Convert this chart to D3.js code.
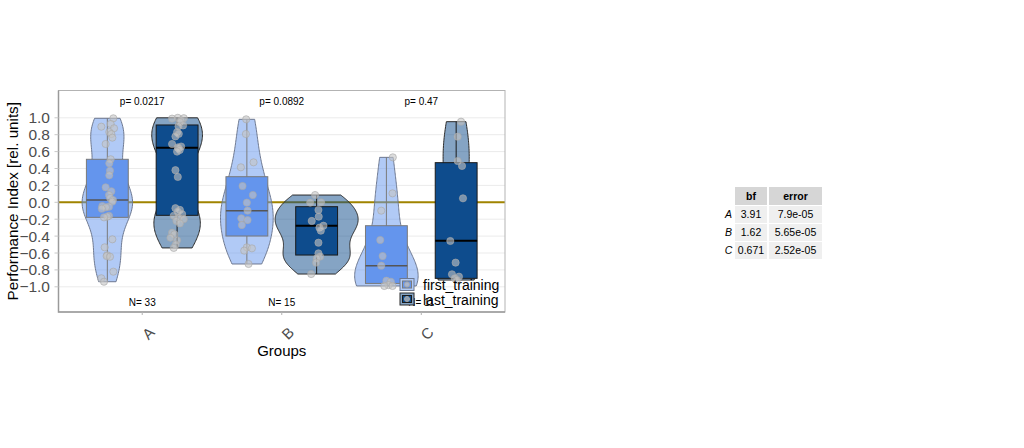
<!DOCTYPE html>
<html>
<head>
<meta charset="utf-8">
<script src="https://cdn.jsdelivr.net/npm/d3@7"></script>
<style>
  body { margin: 0; background: #fff; }
  text { font-family: "Liberation Sans", Arial, sans-serif; }
</style>
</head>
<body>
<svg width="1024" height="448"></svg>
<script>
const groups = ['A', 'B', 'C']
const series = ['first_training', 'last_training']
const yTicks = [-1.0, -0.8, -0.6, -0.4, -0.2, 0.0, 0.2, 0.4, 0.6, 0.8, 1.0]
const pLabels = ['p= 0.0217', 'p= 0.0892', 'p= 0.47']
const nLabels = ['N= 33', 'N= 15', 'N= 11']

// box stats [q1, median, q3]
const boxFirst = [[-0.178, 0.027, 0.509], [-0.399, -0.099, 0.303], [-0.96, -0.75, -0.277]]
const boxLast = [[-0.154, 0.646, 0.915], [-0.624, -0.277, -0.052], [-0.90, -0.454, 0.469]]

// points: [value, jitter (category units)]
const ptsAFirst = [[0.994,0.043],[0.927,0.024],[0.895,-0.043],[0.876,0.048],[0.832,0.014],[0.808,0.029],
  [0.765,0.036],[0.69,-0.012],[0.509,0.024],[0.461,0.014],[0.374,0.019],[0.319,0.014],[0.177,-0.012],
  [0.13,0.029],[0.086,0.012],[0.05,0.02],[0.027,0.04],[0.007,0.036],[-0.044,-0.036],[-0.052,0.012],
  [-0.06,-0.01],[-0.076,-0.04],[-0.16,0.012],[-0.17,0],[-0.178,-0.024],[-0.438,0.036],[-0.533,-0.019],
  [-0.627,0],[-0.636,-0.005],[-0.644,0.019],[-0.821,0.043],[-0.899,-0.043],[-0.94,-0.024]]
const ptsALast = [[1.0,0.005],[0.995,0.048],[0.99,-0.036],[0.97,0.029],[0.95,0.02],[0.91,0.043],
  [0.9,0.01],[0.83,0],[0.81,0.012],[0.78,-0.012],[0.69,-0.036],[0.66,0.029],[0.65,0.005],[0.64,0.01],
  [0.62,0.019],[0.6,0.0],[0.38,-0.012],[0.30,0.005],[-0.07,-0.012],[-0.09,0.02],[-0.11,0.005],
  [-0.14,0.036],[-0.16,-0.024],[-0.18,0.01],[-0.20,0.048],[-0.22,-0.005],[-0.25,0.02],[-0.36,-0.036],
  [-0.38,-0.019],[-0.42,-0.048],[-0.45,0.0],[-0.50,-0.01],[-0.54,-0.024]]
const ptsBFirst = [[0.982,-0.005],[0.808,-0.007],[0.473,0.048],[0.414,-0.043],[0.193,-0.031],[0.086,0.043],
  [-0.004,0],[-0.099,0.005],[-0.19,-0.04],[-0.21,0.005],[-0.269,-0.036],[-0.533,0],[-0.545,0.036],
  [-0.572,-0.019],[-0.73,0.012]]
const ptsBLast = [[0.086,-0.011],[0.0,0.032],[-0.004,-0.046],[-0.091,0.013],[-0.17,0.015],[-0.221,-0.035],
  [-0.277,0.049],[-0.30,0.02],[-0.336,0.03],[-0.478,0.013],[-0.604,0.013],[-0.643,0.025],[-0.663,0.001],
  [-0.714,-0.004],[-0.849,-0.039]]
const ptsCFirst = [[0.532,0.046],[0.106,0.044],[-0.099,-0.037],[-0.446,-0.044],[-0.636,-0.027],
  [-0.75,-0.037],[-0.928,0],[-0.94,0.032],[-0.98,0.015],[-0.99,-0.015],[-0.99,0.044]]
const ptsCLast = [[0.954,0.035],[0.777,0.011],[0.489,0.011],[0.43,0.042],[0.047,0.049],[-0.458,-0.042],
  [-0.714,-0.004],[-0.852,-0.03],[-0.88,0.02],[-0.90,-0.01],[-0.92,0.005]]

const ptsFirst = [ptsAFirst, ptsBFirst, ptsCFirst]
const ptsLast = [ptsALast, ptsBLast, ptsCLast]

const tblRows = ['A', 'B', 'C']
const tblBf = ['3.91', '1.62', '0.671']
const tblError = ['7.9e-05', '5.65e-05', '2.52e-05']

const svg = d3.select('svg')
const panel = {left: 58.5, right: 505, top: 90.5, bottom: 312}

const x = d3.scalePoint().domain(groups).range([panel.left, panel.right]).padding(0.6)
const step = x.step()
const y = d3.scaleLinear().domain([-1, 1]).range([286.8, 117.8])

const styles = {
  first_training: {vFill: '#6495ED', vStroke: '#6d7890', bFill: '#6495ED', bStroke: '#7a7a7a', med: '#555', medW: 1.5},
  last_training: {vFill: '#0b4a8a', vStroke: '#2b2b2b', bFill: '#0e4c8d', bStroke: '#1a1a1a', med: '#000', medW: 2}
}

// grid
svg.append('g').selectAll('line').data(yTicks).join('line')
  .attr('x1', panel.left).attr('x2', panel.right)
  .attr('y1', d => y(d)).attr('y2', d => y(d))
  .attr('stroke', '#ebebeb').attr('stroke-width', 1)

// zero line
svg.append('line')
  .attr('x1', panel.left).attr('x2', panel.right)
  .attr('y1', y(0)).attr('y2', y(0))
  .attr('stroke', '#a08400').attr('stroke-width', 2)

// kde, R style nrd0 bandwidth
function nrd0(v) {
  const s = d3.deviation(v)
  const sorted = v.slice().sort(d3.ascending)
  const iqr = d3.quantile(sorted, 0.75) - d3.quantile(sorted, 0.25)
  let lo = Math.min(s, iqr / 1.34)
  if (!lo) lo = s || 1
  return 0.9 * lo * Math.pow(v.length, -0.2)
}
function density(v) {
  const bw = nrd0(v)
  const lo = d3.min(v), hi = d3.max(v)
  const n = 100
  const out = []
  for (let i = 0; i <= n; i++) {
    const t = lo + (hi - lo) * i / n
    const dd = d3.mean(v, xi => Math.exp(-0.5 * ((t - xi) / bw) ** 2)) / (bw * Math.sqrt(2 * Math.PI))
    out.push([t, dd])
  }
  return out
}

const layers = []
groups.forEach((g, gi) => {
  layers.push({g, s: 'first_training', off: -0.25, pts: ptsFirst[gi], box: boxFirst[gi]})
  layers.push({g, s: 'last_training', off: 0.25, pts: ptsLast[gi], box: boxLast[gi]})
})
layers.forEach(l => { l.dens = density(l.pts.map(p => p[0])) })
const maxD = d3.max(layers, l => d3.max(l.dens, d => d[1]))
const w = d3.scaleLinear().domain([0, maxD]).range([0, 41.5])

const plot = svg.append('g')
layers.forEach(l => {
  const st = styles[l.s]
  const cx = x(l.g) + l.off * step
  const area = d3.area()
    .y(d => y(d[0]))
    .x0(d => cx - w(d[1]))
    .x1(d => cx + w(d[1]))
    .curve(d3.curveLinear)
  plot.append('path')
    .attr('d', area(l.dens))
    .attr('fill', st.vFill).attr('fill-opacity', 0.5)
    .attr('stroke', st.vStroke).attr('stroke-width', 1)

  const vals = l.pts.map(p => p[0])
  const bw = 0.3 * step
  // whisker
  plot.append('line')
    .attr('x1', cx).attr('x2', cx)
    .attr('y1', y(d3.min(vals))).attr('y2', y(d3.max(vals)))
    .attr('stroke', st.bStroke).attr('stroke-width', 1)
  plot.append('rect')
    .attr('x', cx - bw / 2).attr('width', bw)
    .attr('y', y(l.box[2])).attr('height', y(l.box[0]) - y(l.box[2]))
    .attr('fill', st.bFill).attr('stroke', st.bStroke).attr('stroke-width', 1)
  plot.append('line')
    .attr('x1', cx - bw / 2).attr('x2', cx + bw / 2)
    .attr('y1', y(l.box[1])).attr('y2', y(l.box[1]))
    .attr('stroke', st.med).attr('stroke-width', st.medW)
})
layers.forEach(l => {
  const cx = x(l.g) + l.off * step
  plot.append('g').selectAll('circle').data(l.pts).join('circle')
    .attr('cx', d => cx + d[1] * step)
    .attr('cy', d => y(d[0]))
    .attr('r', 3.6)
    .attr('fill', '#c4c4c4').attr('fill-opacity', 0.6)
    .attr('stroke', '#a8a8a8').attr('stroke-opacity', 0.8).attr('stroke-width', 0.8)
})

// labels p and N
svg.append('g').selectAll('text').data(groups).join('text')
  .attr('x', d => x(d)).attr('y', 104.5)
  .attr('text-anchor', 'middle').attr('font-size', 10).attr('fill', '#000')
  .text((d, i) => pLabels[i])
svg.append('g').selectAll('text').data(groups).join('text')
  .attr('x', d => x(d)).attr('y', 305.5)
  .attr('text-anchor', 'middle').attr('font-size', 10).attr('fill', '#000')
  .text((d, i) => nLabels[i])

// panel border
svg.append('rect')
  .attr('x', panel.left).attr('y', panel.top)
  .attr('width', panel.right - panel.left).attr('height', panel.bottom - panel.top)
  .attr('fill', 'none').attr('stroke', '#b3b3b3').attr('stroke-width', 1)
svg.append('path')
  .attr('d', `M${panel.left},${panel.top}V${panel.bottom}H${panel.right}`)
  .attr('fill', 'none').attr('stroke', '#9a9a9a').attr('stroke-width', 1.5)

// y axis ticks and labels
svg.append('g').selectAll('line').data(yTicks).join('line')
  .attr('x1', panel.left - 4).attr('x2', panel.left)
  .attr('y1', d => y(d)).attr('y2', d => y(d))
  .attr('stroke', '#c8c8c8')
svg.append('g').selectAll('text').data(yTicks).join('text')
  .attr('x', 50).attr('y', d => y(d))
  .attr('dy', '0.36em').attr('text-anchor', 'end')
  .attr('font-size', 15.5).attr('fill', '#4d4d4d')
  .text(d => d3.format('.1f')(d))

// x ticks and labels
svg.append('g').selectAll('line').data(groups).join('line')
  .attr('x1', d => x(d)).attr('x2', d => x(d))
  .attr('y1', panel.bottom).attr('y2', panel.bottom + 3)
  .attr('stroke', '#b3b3b3')
svg.append('g').selectAll('text').data(groups).join('text')
  .attr('transform', d => `translate(${x(d) + 6},${panel.bottom + 14}) rotate(-45)`)
  .attr('text-anchor', 'end').attr('dy', '0.7em')
  .attr('font-size', 15).attr('fill', '#4d4d4d')
  .text(d => d)

// axis titles
svg.append('text')
  .attr('x', (panel.left + panel.right) / 2).attr('y', 356)
  .attr('text-anchor', 'middle').attr('font-size', 15)
  .text('Groups')
svg.append('text')
  .attr('transform', `translate(18,${(panel.top + panel.bottom) / 2}) rotate(-90)`)
  .attr('text-anchor', 'middle').attr('font-size', 15.2)
  .text('Performance Index [rel. units]')

// legend
const lg = svg.append('g')
series.forEach((s, i) => {
  const st = styles[s]
  const ky = 278.5 + i * 14.5
  lg.append('rect').attr('x', 400).attr('y', ky).attr('width', 14).attr('height', 12)
    .attr('fill', '#fff')
  lg.append('rect').attr('x', 400).attr('y', ky).attr('width', 14).attr('height', 12)
    .attr('fill', st.vFill).attr('fill-opacity', 0.5).attr('stroke', st.vStroke)
  lg.append('rect').attr('x', 402.5).attr('y', ky + 2.5).attr('width', 9).attr('height', 7)
    .attr('fill', st.bFill).attr('stroke', st.bStroke)
  lg.append('circle').attr('cx', 407).attr('cy', ky + 6).attr('r', 2.5)
    .attr('fill', '#c4c4c4').attr('fill-opacity', 0.7).attr('stroke', '#a8a8a8')
  lg.append('text').attr('x', 423).attr('y', ky + 6.5).attr('dy', '0.36em')
    .attr('font-size', 14).attr('fill', '#000').text(s)
})

// table
const tbl = svg.append('g').attr('font-size', 10.5)
const cols = [{x: 735, w: 32}, {x: 769, w: 53}]
const rowH = 18, tblTop = 187
cols.forEach((c, ci) => {
  tbl.append('rect').attr('x', c.x).attr('y', tblTop).attr('width', c.w).attr('height', rowH)
    .attr('fill', '#d6d6d6')
  tbl.append('text').attr('x', c.x + c.w / 2).attr('y', tblTop + rowH / 2).attr('dy', '0.36em')
    .attr('text-anchor', 'middle').attr('font-weight', 'bold')
    .text(ci === 0 ? 'bf' : 'error')
})
tblRows.forEach((r, ri) => {
  const ry = tblTop + rowH * (ri + 1)
  tbl.append('text').attr('x', 728.5).attr('y', ry + rowH / 2).attr('dy', '0.36em')
    .attr('text-anchor', 'middle').attr('font-style', 'italic').text(r)
  const vals = [tblBf[ri], tblError[ri]]
  cols.forEach((c, ci) => {
    tbl.append('rect').attr('x', c.x).attr('y', ry + 1).attr('width', c.w).attr('height', rowH - 1)
      .attr('fill', '#efefef')
    tbl.append('text').attr('x', c.x + c.w / 2).attr('y', ry + rowH / 2).attr('dy', '0.36em')
      .attr('text-anchor', 'middle').text(vals[ci])
  })
})
</script>
</body>
</html>
